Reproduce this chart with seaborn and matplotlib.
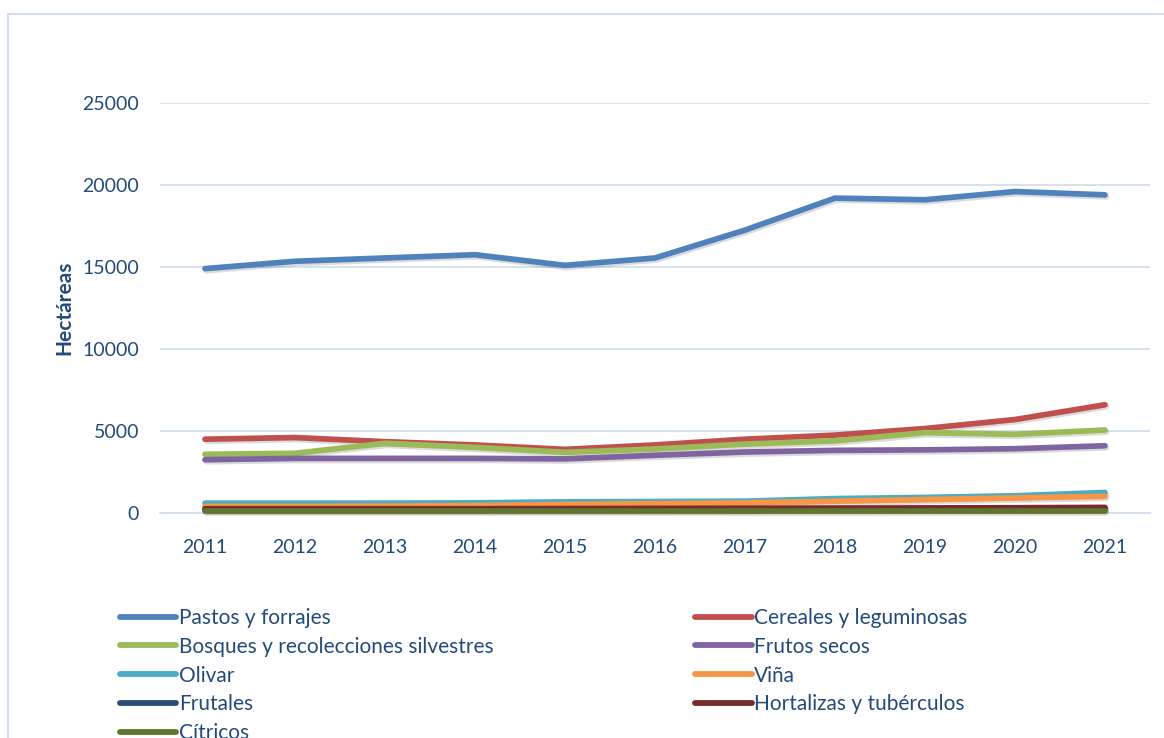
import numpy as np
import pandas as pd
import matplotlib
matplotlib.use("Agg")
import matplotlib.pyplot as plt
import matplotlib.patches as patches
import matplotlib.patheffects as pe
from matplotlib.ticker import FixedLocator
import seaborn as sns

# Superficie (hectáreas) por tipo de cultivo
years = list(range(2011, 2022))
pastos = [14900, 15350, 15550, 15750, 15100, 15550, 17250, 19200, 19100, 19600, 19400]
cereales = [4500, 4600, 4350, 4150, 3880, 4150, 4500, 4750, 5150, 5700, 6600]
bosques = [3580, 3640, 4250, 4000, 3700, 3900, 4200, 4400, 4900, 4800, 5060]
frutos_secos = [3250, 3330, 3330, 3330, 3300, 3520, 3720, 3820, 3850, 3920, 4100]
olivar = [600, 600, 600, 620, 680, 700, 720, 880, 950, 1050, 1250]
vina = [400, 400, 420, 450, 520, 570, 620, 720, 820, 920, 1020]
frutales = [200, 200, 200, 200, 210, 210, 220, 230, 240, 250, 270]
hortalizas = [260, 260, 260, 260, 270, 280, 290, 300, 310, 320, 340]
citricos = [130, 130, 130, 130, 130, 130, 130, 130, 130, 130, 130]

series = {
    "Pastos y forrajes": pastos,
    "Cereales y leguminosas": cereales,
    "Bosques y recolecciones silvestres": bosques,
    "Frutos secos": frutos_secos,
    "Olivar": olivar,
    "Viña": vina,
    "Frutales": frutales,
    "Hortalizas y tubérculos": hortalizas,
    "Cítricos": citricos,
}
colors = ["#4F81BD", "#C0504D", "#9BBB59", "#8064A2", "#4BACC6",
          "#F79646", "#2C4D75", "#772C2A", "#5F7530"]
names = list(series.keys())

df = pd.DataFrame([(n, y, v) for n in names for y, v in zip(years, series[n])],
                  columns=["cultivo", "year", "ha"])

sns.set_style("white")
plt.rcParams["font.family"] = ["Lato", "DejaVu Sans"]
text_color = "#244A7A"
grid_color = "#D3DFF0"

fig = plt.figure(figsize=(11.64, 7.38), dpi=100)
ax = fig.add_axes([160 / 1164, 1 - 513 / 738, 990 / 1164, 410 / 738])

sns.lineplot(data=df, x="year", y="ha", hue="cultivo", hue_order=names,
             palette=colors, linewidth=4.1, legend=False, ax=ax,
             solid_capstyle="round")
shadow = [pe.SimpleLineShadow(offset=(1, -1.5), alpha=0.14, shadow_color="black"), pe.Normal()]
for ln in ax.get_lines():
    ln.set_path_effects(shadow)
    ln.set_clip_on(False)

ax.set_xlim(2010.5, 2021.5)
ax.set_ylim(0, 25000)
ax.set_yticks(range(0, 25001, 5000))
ax.set_xticks(years)
ax.xaxis.set_minor_locator(FixedLocator(np.arange(2010.5, 2022, 1)))
ax.yaxis.grid(True, color=grid_color, linewidth=1.3)
ax.set_axisbelow(True)
for s in ["top", "right", "left"]:
    ax.spines[s].set_visible(False)
ax.spines["bottom"].set_color(grid_color)
ax.spines["bottom"].set_linewidth(1.3)
ax.spines["bottom"].set_zorder(0.5)
ax.tick_params(axis="x", which="major", length=0, pad=19, labelsize=14, labelcolor=text_color)
ax.tick_params(axis="x", which="minor", length=7, width=1.3, color=grid_color)
ax.tick_params(axis="y", length=0, pad=15, labelsize=14, labelcolor=text_color)
ax.set_xlabel("")
ax.set_ylabel("Hectáreas", fontsize=15, fontweight="bold", color=text_color, labelpad=6)

# leyenda en dos columnas, orden por filas como en el original
lines = ax.get_lines()[:len(names)]
order = [0, 2, 4, 6, 8, 1, 3, 5, 7]
leg = fig.legend([lines[i] for i in order], [names[i] for i in order],
                 loc="upper left", bbox_to_anchor=(120 / 1164, 1 - 608 / 738),
                 ncol=2, frameon=False, fontsize=15, handlelength=2.7,
                 handletextpad=0.12, labelspacing=0.42, columnspacing=9.7,
                 borderpad=0, borderaxespad=0)
for t in leg.get_texts():
    t.set_color(text_color)
for h in leg.legend_handles:
    h.set_linewidth(4.2)
    h.set_path_effects([])
    h.set_solid_capstyle("round")

fig.add_artist(patches.Rectangle((8 / 1164, -0.1), 1.2, 1.1 - 14 / 738,
                                 transform=fig.transFigure, fill=False,
                                 edgecolor=grid_color, linewidth=1.5))

fig.savefig("out.png", dpi=100)
